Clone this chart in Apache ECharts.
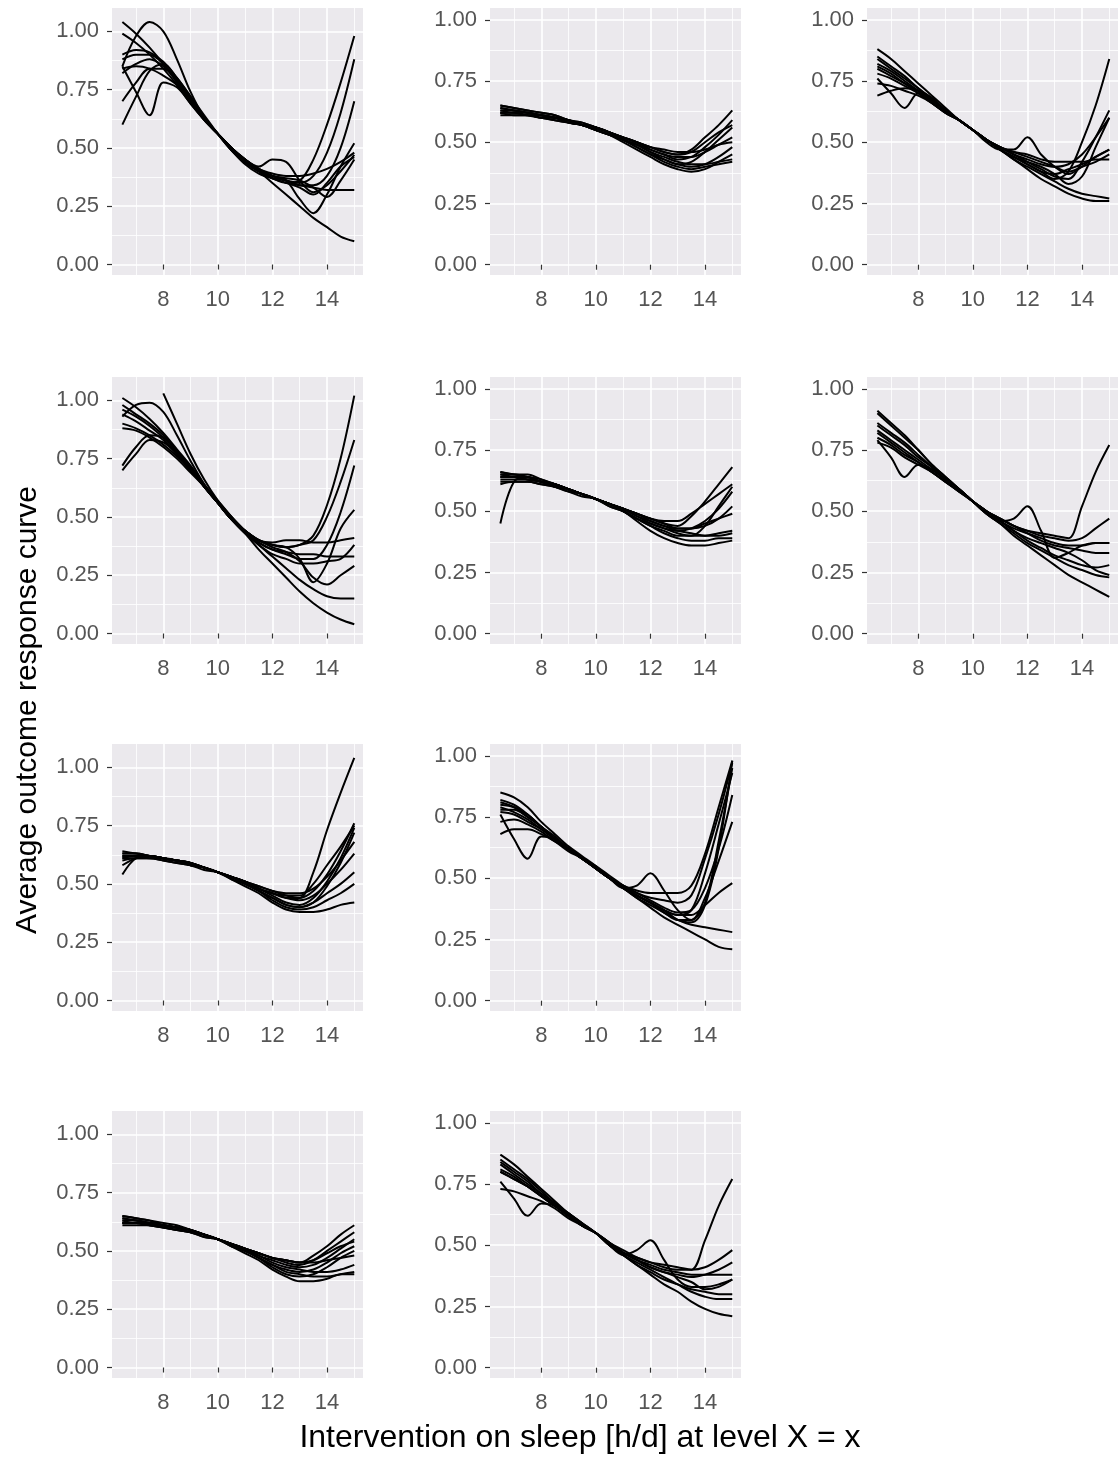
<!DOCTYPE html>
<html>
<head>
<meta charset="utf-8">
<script src="https://cdn.jsdelivr.net/npm/echarts@6/dist/echarts.min.js"></script>
<style>
  html, body { margin: 0; padding: 0; background: #ffffff; }
  #chart { width: 1120px; height: 1458px; }
</style>
</head>
<body>
<div id="chart"></div>
<script>
// Sleep intervention levels (h/d) at which each response curve is evaluated
const SLEEP_LEVELS = [6.5, 7, 7.5, 8, 8.5, 9, 9.5, 10, 10.5, 11, 11.5, 12, 12.5, 13, 13.5, 14, 14.5, 15];

const X_TICKS = [8, 10, 12, 14];
const X_MINOR = [7, 9, 11, 13, 15];
const Y_TICKS = [0, 0.25, 0.5, 0.75, 1];
const Y_MINOR = [0.125, 0.375, 0.625, 0.875];

// Average outcome response curves, one list of curves per panel
const curvesA1 = [
  [1.04,0.99,0.93,0.86,0.78,0.70,0.62,0.56,0.50,0.45,0.40,0.35,0.30,0.25,0.20,0.16,0.12,0.10],
  [0.99,0.95,0.90,0.84,0.77,0.69,0.62,0.56,0.50,0.45,0.41,0.38,0.36,0.34,0.33,0.32,0.32,0.32],
  [0.85,0.98,1.04,1.00,0.88,0.74,0.63,0.56,0.50,0.44,0.40,0.37,0.35,0.36,0.45,0.60,0.78,0.98],
  [0.85,0.74,0.64,0.78,0.76,0.69,0.62,0.56,0.50,0.45,0.42,0.45,0.44,0.36,0.31,0.34,0.40,0.47],
  [0.60,0.72,0.83,0.86,0.80,0.72,0.63,0.56,0.49,0.43,0.39,0.37,0.36,0.35,0.38,0.48,0.65,0.88],
  [0.70,0.78,0.84,0.84,0.79,0.71,0.63,0.56,0.49,0.44,0.40,0.38,0.36,0.28,0.22,0.30,0.42,0.52],
  [0.88,0.90,0.90,0.86,0.79,0.71,0.63,0.56,0.50,0.45,0.41,0.39,0.38,0.38,0.39,0.41,0.44,0.48],
  [0.82,0.86,0.88,0.85,0.79,0.71,0.63,0.56,0.50,0.45,0.41,0.38,0.36,0.34,0.34,0.38,0.50,0.70],
  [0.90,0.92,0.91,0.87,0.80,0.72,0.64,0.56,0.49,0.44,0.40,0.37,0.35,0.33,0.30,0.35,0.42,0.46],
  [0.84,0.85,0.84,0.81,0.77,0.70,0.62,0.56,0.50,0.44,0.40,0.38,0.37,0.36,0.33,0.29,0.36,0.45]
];
const curvesB1 = [
  [0.65,0.64,0.63,0.62,0.61,0.59,0.58,0.56,0.54,0.52,0.50,0.48,0.46,0.45,0.47,0.52,0.57,0.63],
  [0.64,0.63,0.62,0.61,0.60,0.59,0.57,0.56,0.54,0.52,0.50,0.47,0.45,0.43,0.44,0.48,0.53,0.59],
  [0.63,0.63,0.62,0.61,0.60,0.59,0.57,0.56,0.54,0.51,0.49,0.46,0.43,0.41,0.42,0.46,0.51,0.56],
  [0.62,0.62,0.61,0.61,0.60,0.58,0.57,0.55,0.53,0.51,0.48,0.45,0.42,0.40,0.39,0.40,0.41,0.42],
  [0.61,0.61,0.61,0.60,0.59,0.58,0.57,0.55,0.53,0.50,0.47,0.44,0.41,0.39,0.38,0.39,0.42,0.45],
  [0.62,0.62,0.61,0.60,0.60,0.58,0.57,0.55,0.53,0.51,0.49,0.47,0.45,0.44,0.44,0.46,0.49,0.52],
  [0.64,0.63,0.62,0.61,0.60,0.59,0.57,0.56,0.54,0.52,0.50,0.48,0.47,0.46,0.46,0.47,0.49,0.50],
  [0.63,0.62,0.62,0.61,0.60,0.59,0.57,0.56,0.54,0.51,0.49,0.46,0.44,0.42,0.41,0.41,0.42,0.43],
  [0.65,0.64,0.63,0.62,0.61,0.59,0.58,0.56,0.54,0.52,0.50,0.48,0.46,0.45,0.46,0.50,0.54,0.57],
  [0.62,0.61,0.61,0.60,0.59,0.58,0.57,0.55,0.53,0.51,0.48,0.45,0.43,0.41,0.40,0.41,0.44,0.48]
];
const curvesC1 = [
  [0.88,0.84,0.79,0.74,0.69,0.64,0.59,0.55,0.51,0.47,0.43,0.39,0.35,0.32,0.29,0.27,0.26,0.26],
  [0.85,0.81,0.77,0.72,0.68,0.63,0.59,0.55,0.51,0.47,0.43,0.40,0.37,0.34,0.31,0.29,0.28,0.27],
  [0.76,0.70,0.64,0.70,0.67,0.63,0.59,0.55,0.50,0.47,0.47,0.52,0.45,0.40,0.37,0.40,0.44,0.47],
  [0.69,0.71,0.72,0.71,0.68,0.63,0.59,0.55,0.51,0.48,0.46,0.44,0.42,0.40,0.38,0.40,0.42,0.45],
  [0.82,0.79,0.75,0.71,0.67,0.63,0.59,0.55,0.51,0.47,0.44,0.41,0.38,0.35,0.38,0.50,0.65,0.84],
  [0.80,0.77,0.74,0.70,0.66,0.62,0.59,0.55,0.51,0.48,0.45,0.42,0.39,0.36,0.35,0.42,0.52,0.63],
  [0.78,0.76,0.73,0.70,0.66,0.62,0.59,0.55,0.51,0.48,0.45,0.43,0.41,0.40,0.41,0.45,0.52,0.60],
  [0.84,0.80,0.76,0.72,0.67,0.63,0.59,0.55,0.51,0.47,0.44,0.41,0.38,0.37,0.39,0.41,0.44,0.47],
  [0.74,0.73,0.71,0.69,0.66,0.62,0.59,0.55,0.51,0.48,0.46,0.45,0.43,0.42,0.42,0.42,0.43,0.43],
  [0.81,0.78,0.74,0.71,0.67,0.63,0.59,0.55,0.51,0.47,0.44,0.42,0.40,0.37,0.33,0.36,0.48,0.60]
];
const curvesA2 = [
  [1.01,0.97,0.92,0.86,0.79,0.72,0.64,0.57,0.50,0.43,0.36,0.30,0.24,0.18,0.13,0.09,0.06,0.04],
  [0.98,0.94,0.90,0.85,0.78,0.71,0.63,0.56,0.50,0.44,0.38,0.33,0.28,0.23,0.19,0.16,0.15,0.15],
  [null,null,null,1.03,0.90,0.77,0.66,0.57,0.50,0.44,0.39,0.36,0.35,0.34,0.34,0.33,0.33,0.33],
  [0.93,0.98,0.99,0.95,0.85,0.74,0.64,0.56,0.49,0.44,0.40,0.38,0.37,0.38,0.42,0.55,0.75,1.02],
  [0.72,0.80,0.85,0.84,0.78,0.71,0.63,0.56,0.49,0.44,0.40,0.38,0.37,0.38,0.40,0.50,0.65,0.83],
  [0.70,0.77,0.83,0.82,0.77,0.70,0.63,0.56,0.49,0.44,0.40,0.38,0.37,0.32,0.22,0.30,0.45,0.53],
  [0.96,0.93,0.89,0.84,0.78,0.71,0.63,0.56,0.49,0.43,0.39,0.36,0.34,0.32,0.32,0.38,0.52,0.72],
  [0.90,0.88,0.85,0.81,0.76,0.70,0.63,0.56,0.49,0.44,0.40,0.39,0.40,0.40,0.39,0.39,0.40,0.41],
  [0.88,0.87,0.84,0.80,0.75,0.69,0.63,0.56,0.49,0.44,0.40,0.37,0.35,0.31,0.24,0.21,0.25,0.29],
  [0.94,0.91,0.87,0.83,0.77,0.70,0.63,0.56,0.49,0.43,0.38,0.34,0.32,0.30,0.30,0.31,0.32,0.38]
];
const curvesB2 = [
  [0.45,0.62,0.64,0.62,0.61,0.59,0.57,0.55,0.53,0.51,0.49,0.47,0.45,0.44,0.48,0.54,0.61,0.68],
  [0.66,0.65,0.64,0.62,0.61,0.59,0.57,0.55,0.53,0.51,0.49,0.47,0.46,0.46,0.49,0.53,0.57,0.61],
  [0.65,0.64,0.63,0.62,0.61,0.59,0.57,0.55,0.53,0.51,0.48,0.45,0.43,0.42,0.43,0.46,0.51,0.58],
  [0.64,0.64,0.63,0.62,0.60,0.59,0.57,0.55,0.53,0.50,0.47,0.44,0.41,0.39,0.38,0.38,0.39,0.39],
  [0.63,0.63,0.63,0.62,0.60,0.58,0.57,0.55,0.52,0.50,0.46,0.42,0.39,0.37,0.36,0.36,0.37,0.38],
  [0.66,0.65,0.65,0.63,0.61,0.59,0.57,0.55,0.53,0.51,0.49,0.47,0.45,0.43,0.43,0.44,0.47,0.52],
  [0.62,0.62,0.62,0.61,0.60,0.59,0.57,0.55,0.53,0.50,0.47,0.45,0.43,0.41,0.40,0.40,0.41,0.42],
  [0.64,0.64,0.64,0.62,0.61,0.59,0.57,0.55,0.53,0.51,0.48,0.46,0.44,0.43,0.43,0.45,0.47,0.49],
  [0.65,0.65,0.64,0.63,0.61,0.59,0.57,0.55,0.53,0.51,0.49,0.46,0.44,0.42,0.41,0.40,0.40,0.41],
  [0.61,0.62,0.62,0.61,0.60,0.58,0.56,0.55,0.52,0.50,0.47,0.44,0.42,0.40,0.40,0.44,0.52,0.60]
];
const curvesC2 = [
  [0.91,0.86,0.81,0.75,0.69,0.64,0.59,0.54,0.49,0.45,0.40,0.36,0.32,0.28,0.24,0.21,0.18,0.15],
  [0.90,0.85,0.80,0.75,0.69,0.64,0.59,0.54,0.49,0.45,0.41,0.37,0.34,0.31,0.28,0.26,0.24,0.23],
  [0.86,0.82,0.78,0.73,0.68,0.63,0.59,0.54,0.50,0.46,0.42,0.38,0.35,0.32,0.30,0.28,0.27,0.28],
  [0.79,0.72,0.64,0.69,0.67,0.63,0.59,0.54,0.50,0.46,0.43,0.41,0.39,0.37,0.36,0.36,0.37,0.37],
  [0.83,0.79,0.75,0.71,0.67,0.63,0.59,0.54,0.49,0.46,0.47,0.52,0.42,0.31,0.33,0.36,0.37,0.37],
  [0.80,0.77,0.73,0.70,0.66,0.62,0.58,0.54,0.50,0.47,0.44,0.42,0.41,0.40,0.39,0.52,0.66,0.77],
  [0.78,0.76,0.72,0.69,0.66,0.62,0.58,0.54,0.50,0.47,0.44,0.42,0.40,0.39,0.38,0.39,0.43,0.47],
  [0.82,0.78,0.74,0.70,0.66,0.62,0.58,0.54,0.50,0.47,0.44,0.41,0.38,0.36,0.35,0.34,0.33,0.33],
  [0.85,0.81,0.77,0.72,0.68,0.63,0.59,0.54,0.50,0.46,0.42,0.39,0.37,0.35,0.33,0.30,0.26,0.24]
];
const curvesB3 = [
  [0.54,0.61,0.62,0.61,0.60,0.59,0.57,0.55,0.53,0.51,0.49,0.47,0.45,0.44,0.55,0.73,0.89,1.04],
  [0.63,0.63,0.62,0.61,0.60,0.59,0.57,0.55,0.53,0.51,0.48,0.46,0.44,0.44,0.47,0.54,0.64,0.76],
  [0.62,0.62,0.62,0.61,0.60,0.59,0.57,0.55,0.53,0.51,0.48,0.45,0.42,0.41,0.44,0.51,0.61,0.74],
  [0.61,0.62,0.61,0.61,0.60,0.58,0.57,0.55,0.53,0.50,0.47,0.44,0.41,0.40,0.42,0.49,0.59,0.72],
  [0.64,0.63,0.62,0.61,0.60,0.59,0.57,0.55,0.53,0.51,0.49,0.47,0.46,0.46,0.48,0.53,0.60,0.68],
  [0.63,0.63,0.62,0.61,0.60,0.59,0.57,0.55,0.53,0.51,0.48,0.46,0.44,0.43,0.45,0.50,0.56,0.63],
  [0.62,0.62,0.62,0.61,0.60,0.58,0.57,0.55,0.53,0.50,0.47,0.44,0.41,0.40,0.42,0.46,0.50,0.55],
  [0.61,0.61,0.61,0.60,0.59,0.58,0.57,0.55,0.52,0.50,0.47,0.43,0.40,0.39,0.40,0.43,0.46,0.50],
  [0.60,0.61,0.61,0.60,0.59,0.58,0.56,0.55,0.52,0.49,0.46,0.42,0.39,0.38,0.38,0.39,0.41,0.42],
  [0.58,0.61,0.62,0.61,0.60,0.59,0.57,0.55,0.53,0.51,0.48,0.46,0.45,0.45,0.50,0.58,0.66,0.75]
];
const curvesC3 = [
  [0.85,0.83,0.79,0.73,0.68,0.63,0.59,0.55,0.50,0.46,0.42,0.38,0.34,0.31,0.28,0.25,0.22,0.21],
  [0.82,0.80,0.76,0.71,0.66,0.62,0.58,0.55,0.51,0.47,0.43,0.40,0.36,0.33,0.31,0.30,0.29,0.28],
  [0.76,0.66,0.58,0.67,0.66,0.62,0.58,0.54,0.50,0.46,0.43,0.40,0.37,0.35,0.35,0.39,0.44,0.48],
  [0.79,0.77,0.74,0.70,0.66,0.62,0.58,0.54,0.50,0.46,0.47,0.52,0.45,0.37,0.33,0.40,0.65,0.95],
  [0.80,0.79,0.76,0.71,0.67,0.62,0.58,0.54,0.50,0.47,0.45,0.44,0.44,0.44,0.47,0.60,0.79,0.98],
  [0.73,0.74,0.72,0.69,0.65,0.62,0.58,0.54,0.50,0.47,0.44,0.42,0.41,0.40,0.43,0.58,0.76,0.97],
  [0.77,0.76,0.73,0.70,0.66,0.62,0.58,0.54,0.50,0.46,0.43,0.40,0.37,0.35,0.37,0.52,0.72,0.93],
  [0.68,0.70,0.70,0.68,0.65,0.61,0.58,0.54,0.50,0.47,0.44,0.41,0.38,0.36,0.37,0.46,0.62,0.84],
  [0.81,0.79,0.75,0.71,0.66,0.62,0.58,0.54,0.50,0.46,0.42,0.39,0.36,0.33,0.33,0.42,0.57,0.73],
  [0.78,0.78,0.75,0.71,0.66,0.62,0.58,0.54,0.50,0.46,0.43,0.40,0.37,0.33,0.32,0.39,0.62,0.98]
];
const curvesB4 = [
  [0.65,0.64,0.63,0.61,0.60,0.59,0.57,0.55,0.53,0.51,0.49,0.47,0.46,0.45,0.48,0.52,0.57,0.61],
  [0.64,0.63,0.62,0.61,0.60,0.59,0.57,0.55,0.53,0.51,0.49,0.47,0.45,0.44,0.46,0.50,0.54,0.58],
  [0.63,0.63,0.62,0.61,0.60,0.59,0.57,0.55,0.53,0.51,0.48,0.46,0.44,0.43,0.44,0.47,0.51,0.55],
  [0.62,0.62,0.61,0.61,0.60,0.58,0.57,0.55,0.53,0.50,0.47,0.44,0.42,0.41,0.42,0.45,0.49,0.52],
  [0.61,0.61,0.61,0.60,0.59,0.58,0.57,0.55,0.52,0.50,0.47,0.43,0.40,0.39,0.40,0.43,0.47,0.50],
  [0.62,0.62,0.61,0.60,0.59,0.58,0.56,0.55,0.52,0.49,0.46,0.42,0.39,0.37,0.37,0.38,0.40,0.40],
  [0.64,0.63,0.62,0.61,0.60,0.59,0.57,0.55,0.53,0.51,0.49,0.47,0.46,0.45,0.45,0.46,0.47,0.48],
  [0.63,0.62,0.62,0.61,0.60,0.59,0.57,0.55,0.53,0.50,0.48,0.45,0.43,0.42,0.41,0.41,0.42,0.44],
  [0.62,0.62,0.61,0.60,0.59,0.58,0.56,0.55,0.52,0.50,0.47,0.44,0.41,0.40,0.39,0.39,0.40,0.41],
  [0.65,0.64,0.63,0.62,0.61,0.59,0.57,0.55,0.53,0.51,0.49,0.47,0.46,0.45,0.46,0.49,0.52,0.54]
];
const curvesC4 = [
  [0.87,0.83,0.78,0.73,0.68,0.63,0.59,0.55,0.50,0.46,0.42,0.38,0.34,0.31,0.27,0.24,0.22,0.21],
  [0.85,0.81,0.77,0.72,0.67,0.63,0.59,0.55,0.50,0.46,0.43,0.40,0.37,0.34,0.31,0.29,0.28,0.28],
  [0.76,0.69,0.62,0.67,0.66,0.62,0.58,0.55,0.50,0.47,0.44,0.41,0.39,0.37,0.35,0.32,0.33,0.36],
  [0.80,0.77,0.74,0.70,0.66,0.62,0.58,0.55,0.50,0.46,0.48,0.52,0.44,0.36,0.33,0.33,0.34,0.36],
  [0.81,0.78,0.74,0.70,0.66,0.62,0.58,0.55,0.51,0.47,0.45,0.43,0.42,0.41,0.40,0.52,0.66,0.77],
  [0.73,0.72,0.70,0.68,0.65,0.61,0.58,0.55,0.51,0.48,0.45,0.43,0.41,0.40,0.40,0.41,0.44,0.48],
  [0.83,0.79,0.75,0.71,0.67,0.63,0.59,0.55,0.51,0.47,0.44,0.41,0.39,0.38,0.37,0.38,0.40,0.43],
  [0.80,0.77,0.74,0.70,0.66,0.62,0.58,0.55,0.51,0.47,0.44,0.42,0.40,0.39,0.38,0.38,0.38,0.38],
  [0.84,0.80,0.76,0.71,0.67,0.62,0.58,0.55,0.50,0.46,0.42,0.39,0.36,0.34,0.32,0.31,0.30,0.30]
];

// Panel arrangement: [row, column, curves]
const PANELS = [
  [0, 0, curvesA1], [0, 1, curvesB1], [0, 2, curvesC1],
  [1, 0, curvesA2], [1, 1, curvesB2], [1, 2, curvesC2],
  [2, 0, curvesB3], [2, 1, curvesC3],
  [3, 0, curvesB4], [3, 1, curvesC4]
];

const COL_LEFT = [112, 490, 867];
const ROW_TOP = [8, 377, 744, 1111];
const PANEL_W = 251, PANEL_H = 267;
// left column panels run a little higher on the y scale
const Y_RANGE = [[-0.045, 1.1], [-0.042, 1.048], [-0.042, 1.048]];
const X_RANGE = [6.12, 15.32];

const FONT = "'Liberation Sans', Arial, Helvetica, sans-serif";

const grids = [], xAxes = [], yAxes = [], series = [];

PANELS.forEach(([row, col, curves], i) => {
  grids.push({
    left: COL_LEFT[col], top: ROW_TOP[row], width: PANEL_W, height: PANEL_H,
    show: true, backgroundColor: '#EBE9ED', borderWidth: 0, containLabel: false
  });

  // major x axis (labels, ticks, major grid)
  xAxes.push({
    type: 'value', gridIndex: i, min: X_RANGE[0], max: X_RANGE[1], position: 'bottom',
    axisLine: { show: false },
    axisTick: { show: true, length: 5, customValues: X_TICKS, lineStyle: { color: '#333333', width: 1.2 } },
    axisLabel: { show: true, customValues: X_TICKS, margin: 14, color: '#555555', fontSize: 22, fontFamily: FONT },
    splitLine: { show: true, lineStyle: { color: '#FFFFFF', width: 1.6 } }
  });
  // minor x grid
  xAxes.push({
    type: 'value', gridIndex: i, min: X_RANGE[0], max: X_RANGE[1], position: 'bottom',
    axisLine: { show: false },
    axisTick: { show: false, customValues: X_MINOR },
    axisLabel: { show: false, customValues: X_MINOR },
    splitLine: { show: true, lineStyle: { color: '#FFFFFF', width: 0.8 } }
  });

  const yr = Y_RANGE[col];
  yAxes.push({
    type: 'value', gridIndex: i, min: yr[0], max: yr[1], position: 'left',
    axisLine: { show: false },
    axisTick: { show: true, length: 5, customValues: Y_TICKS, lineStyle: { color: '#333333', width: 1.2 } },
    axisLabel: {
      show: true, customValues: Y_TICKS, margin: 13, color: '#555555', fontSize: 22, fontFamily: FONT,
      formatter: v => v.toFixed(2)
    },
    splitLine: { show: true, lineStyle: { color: '#FFFFFF', width: 1.6 } }
  });
  yAxes.push({
    type: 'value', gridIndex: i, min: yr[0], max: yr[1], position: 'left',
    axisLine: { show: false },
    axisTick: { show: false, customValues: Y_MINOR },
    axisLabel: { show: false, customValues: Y_MINOR },
    splitLine: { show: true, lineStyle: { color: '#FFFFFF', width: 0.8 } }
  });

  curves.forEach(values => {
    series.push({
      type: 'line',
      xAxisIndex: 2 * i, yAxisIndex: 2 * i,
      data: SLEEP_LEVELS.map((x, k) => [x, values[k]]),
      smooth: 0.35,
      showSymbol: false,
      connectNulls: false,
      silent: true,
      lineStyle: { color: '#000000', width: 2 },
      z: 3
    });
  });
});

const chart = echarts.init(document.getElementById('chart'), null, { renderer: 'canvas' });
chart.setOption({
  animation: false,
  backgroundColor: '#FFFFFF',
  grid: grids,
  xAxis: xAxes,
  yAxis: yAxes,
  series: series,
  graphic: [
    {
      type: 'text', x: 28, y: 710, rotation: Math.PI / 2,
      style: {
        text: 'Average outcome response curve', fill: '#000000',
        font: '30px ' + FONT, align: 'center', verticalAlign: 'middle',
        textAlign: 'center', textVerticalAlign: 'middle'
      }
    },
    {
      type: 'text', x: 580, y: 1438,
      style: {
        text: 'Intervention on sleep [h/d] at level X = x', fill: '#000000',
        font: '32px ' + FONT, align: 'center', verticalAlign: 'middle',
        textAlign: 'center', textVerticalAlign: 'middle'
      }
    }
  ]
});
</script>
</body>
</html>
